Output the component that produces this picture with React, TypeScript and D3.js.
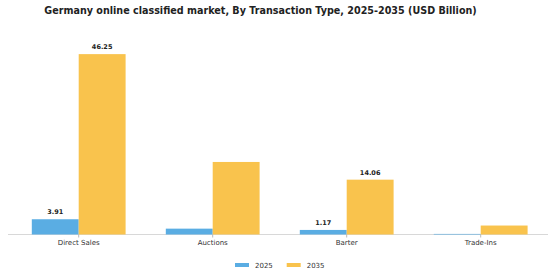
import React from 'react';
import * as d3 from 'd3';

const categories = ['Direct Sales', 'Auctions', 'Barter', 'Trade-Ins'];
const series = ['2025', '2035'];
const values2025 = [3.91, 1.5, 1.17, 0.15];
const values2035 = [46.25, 18.6, 14.06, 2.3];
const labels2025 = ['3.91', '', '1.17', ''];
const labels2035 = ['46.25', '', '14.06', ''];
const colors = ['#5aade3', '#f9c34d'];

const W = 560;
const H = 280;
const base = 234.5;

const App: React.FC = () => {
  const x = d3.scaleBand<string>().domain(categories).range([11.7, 547.7]).paddingInner(0.3).paddingOuter(0.15);
  const inner = d3.scaleBand<string>().domain(series).range([0, x.bandwidth()]);
  const y = d3.scaleLinear().domain([0, 50]).range([base, base - 50 * 3.9]);
  const vals = [values2025, values2035];
  const labs = [labels2025, labels2035];

  return (
    <svg width={W} height={H} style={{ position: 'absolute', left: 0, top: 0, fontFamily: 'DejaVu Sans, sans-serif' }}>
      <rect width={W} height={H} fill="#ffffff" />
      <text x={260.5} y={14} textAnchor="middle" fontSize={9.6} fontWeight="bold" fill="#222">
        Germany online classified market, By Transaction Type, 2025-2035 (USD Billion)
      </text>
      <line x1={8} x2={548} y1={base} y2={base} stroke="#d8d8d8" strokeWidth={1} />
      {categories.map((c) => (
        <g key={c}>
          <line x1={x(c)! + x.bandwidth() / 2} x2={x(c)! + x.bandwidth() / 2} y1={base} y2={base + 3} stroke="#bbb" />
          <text x={x(c)! + x.bandwidth() / 2} y={245} textAnchor="middle" fontSize={7} fill="#333">{c}</text>
        </g>
      ))}
      {series.map((s, si) =>
        categories.map((c, ci) => {
          const bx = x(c)! + inner(s)!;
          const by = y(vals[si][ci]);
          return (
            <g key={s + c}>
              <rect x={bx} y={by} width={inner.bandwidth()} height={base - by} fill={colors[si]} />
              {labs[si][ci] && (
                <text x={bx + inner.bandwidth() / 2} y={by - 5} textAnchor="middle" fontSize={6.5} fontWeight="bold" fill="#222">
                  {labs[si][ci]}
                </text>
              )}
            </g>
          );
        })
      )}
      {series.map((s, si) => {
        const lx = 235 + si * 51.7;
        return (
          <g key={'leg' + s}>
            <rect x={lx} y={263} width={14} height={4} fill={colors[si]} />
            <text x={lx + 20} y={267.5} fontSize={7} fill="#333">{s}</text>
          </g>
        );
      })}
    </svg>
  );
};

export default App;
